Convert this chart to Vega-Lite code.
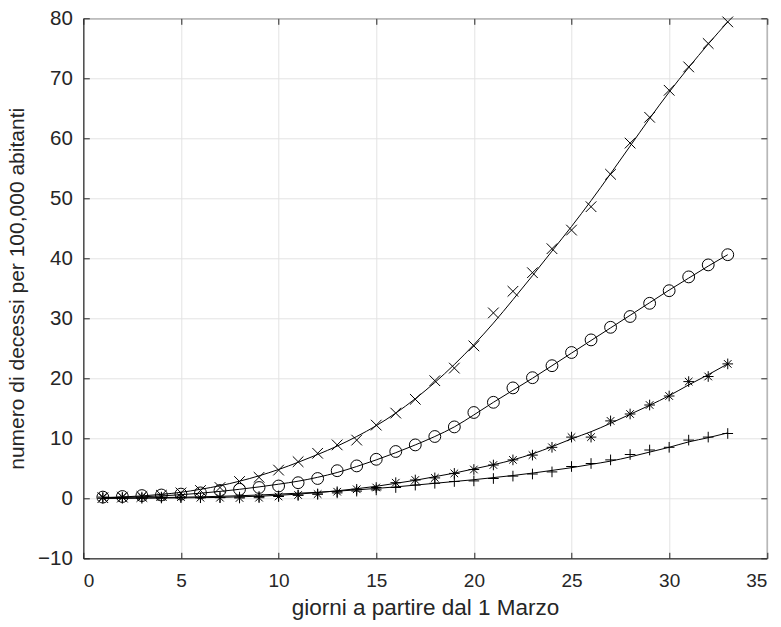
{
  "$schema": "https://vega.github.io/schema/vega-lite/v6.json",
  "width": 683.5,
  "height": 540,
  "autosize": {"type": "none"},
  "padding": {"left": 83.3, "top": 18.3, "right": 14.2, "bottom": 68.7},
  "background": "white",
  "config": {
    "view": {"stroke": "#262626", "strokeWidth": 1},
    "axis": {
      "labelFont": "Liberation Sans",
      "labelColor": "#262626",
      "titleFont": "Liberation Sans",
      "titleFontWeight": "normal",
      "titleColor": "#262626",
      "tickColor": "#262626",
      "domainColor": "#262626",
      "gridColor": "#e3e3e3",
      "gridWidth": 1,
      "tickSize": -6
    }
  },
  "data": {
    "values": [
      {"d":1,"s":"x","v":0.1,"f":0.12},{"d":2,"s":"x","v":0.2,"f":0.22},{"d":3,"s":"x","v":0.3,"f":0.4},{"d":4,"s":"x","v":0.5,"f":0.65},{"d":5,"s":"x","v":0.9,"f":1.0},{"d":6,"s":"x","v":1.3,"f":1.5},{"d":7,"s":"x","v":1.8,"f":2.1},{"d":8,"s":"x","v":2.8,"f":2.85},{"d":9,"s":"x","v":3.5,"f":3.75},{"d":10,"s":"x","v":4.7,"f":4.8},{"d":11,"s":"x","v":6.1,"f":6.0},{"d":12,"s":"x","v":7.5,"f":7.3},{"d":13,"s":"x","v":8.9,"f":8.7},{"d":14,"s":"x","v":9.7,"f":10.3},{"d":15,"s":"x","v":12.2,"f":12.1},{"d":16,"s":"x","v":14.2,"f":14.2},{"d":17,"s":"x","v":16.5,"f":16.6},{"d":18,"s":"x","v":19.6,"f":19.3},{"d":19,"s":"x","v":21.7,"f":22.3},{"d":20,"s":"x","v":25.4,"f":25.6},{"d":21,"s":"x","v":30.9,"f":29.2},{"d":22,"s":"x","v":34.5,"f":33.1},{"d":23,"s":"x","v":37.6,"f":37.1},{"d":24,"s":"x","v":41.6,"f":41.2},{"d":25,"s":"x","v":44.7,"f":45.3},{"d":26,"s":"x","v":48.6,"f":49.6},{"d":27,"s":"x","v":54.0,"f":54.1},{"d":28,"s":"x","v":59.2,"f":58.7},{"d":29,"s":"x","v":63.5,"f":63.3},{"d":30,"s":"x","v":68.0,"f":67.7},{"d":31,"s":"x","v":71.9,"f":71.8},{"d":32,"s":"x","v":75.8,"f":75.7},{"d":33,"s":"x","v":79.4,"f":79.4},
      {"d":1,"s":"o","v":0.2,"f":0.1},{"d":2,"s":"o","v":0.3,"f":0.15},{"d":3,"s":"o","v":0.45,"f":0.25},{"d":4,"s":"o","v":0.55,"f":0.4},{"d":5,"s":"o","v":0.7,"f":0.6},{"d":6,"s":"o","v":0.9,"f":0.85},{"d":7,"s":"o","v":1.3,"f":1.15},{"d":8,"s":"o","v":1.5,"f":1.5},{"d":9,"s":"o","v":1.8,"f":1.9},{"d":10,"s":"o","v":2.05,"f":2.35},{"d":11,"s":"o","v":2.6,"f":2.85},{"d":12,"s":"o","v":3.3,"f":3.5},{"d":13,"s":"o","v":4.6,"f":4.3},{"d":14,"s":"o","v":5.4,"f":5.3},{"d":15,"s":"o","v":6.5,"f":6.4},{"d":16,"s":"o","v":7.8,"f":7.6},{"d":17,"s":"o","v":8.9,"f":8.9},{"d":18,"s":"o","v":10.3,"f":10.3},{"d":19,"s":"o","v":11.9,"f":11.9},{"d":20,"s":"o","v":14.3,"f":13.9},{"d":21,"s":"o","v":16.0,"f":16.0},{"d":22,"s":"o","v":18.4,"f":18.0},{"d":23,"s":"o","v":20.1,"f":20.0},{"d":24,"s":"o","v":22.1,"f":22.1},{"d":25,"s":"o","v":24.3,"f":24.2},{"d":26,"s":"o","v":26.4,"f":26.3},{"d":27,"s":"o","v":28.5,"f":28.4},{"d":28,"s":"o","v":30.3,"f":30.5},{"d":29,"s":"o","v":32.5,"f":32.6},{"d":30,"s":"o","v":34.6,"f":34.7},{"d":31,"s":"o","v":36.9,"f":36.7},{"d":32,"s":"o","v":38.9,"f":38.7},{"d":33,"s":"o","v":40.6,"f":40.6},
      {"d":1,"s":"star","v":0.2,"f":0.0},{"d":2,"s":"star","v":0.2,"f":0.01},{"d":3,"s":"star","v":0.2,"f":0.02},{"d":4,"s":"star","v":0.2,"f":0.04},{"d":5,"s":"star","v":0.2,"f":0.07},{"d":6,"s":"star","v":0.1,"f":0.1},{"d":7,"s":"star","v":0.1,"f":0.15},{"d":8,"s":"star","v":0.05,"f":0.25},{"d":9,"s":"star","v":0.1,"f":0.35},{"d":10,"s":"star","v":0.3,"f":0.5},{"d":11,"s":"star","v":0.55,"f":0.7},{"d":12,"s":"star","v":0.7,"f":0.95},{"d":13,"s":"star","v":1.1,"f":1.25},{"d":14,"s":"star","v":1.5,"f":1.6},{"d":15,"s":"star","v":1.8,"f":2.0},{"d":16,"s":"star","v":2.6,"f":2.5},{"d":17,"s":"star","v":3.05,"f":3.0},{"d":18,"s":"star","v":3.4,"f":3.6},{"d":19,"s":"star","v":4.15,"f":4.2},{"d":20,"s":"star","v":4.8,"f":4.9},{"d":21,"s":"star","v":5.55,"f":5.6},{"d":22,"s":"star","v":6.4,"f":6.4},{"d":23,"s":"star","v":7.2,"f":7.4},{"d":24,"s":"star","v":8.5,"f":8.6},{"d":25,"s":"star","v":10.2,"f":9.9},{"d":26,"s":"star","v":10.2,"f":11.1},{"d":27,"s":"star","v":12.9,"f":12.5},{"d":28,"s":"star","v":14.05,"f":14.0},{"d":29,"s":"star","v":15.55,"f":15.5},{"d":30,"s":"star","v":17.05,"f":17.1},{"d":31,"s":"star","v":19.45,"f":18.9},{"d":32,"s":"star","v":20.3,"f":20.6},{"d":33,"s":"star","v":22.4,"f":22.4},
      {"d":1,"s":"plus","v":0.0,"f":0.0},{"d":2,"s":"plus","v":0.0,"f":0.03},{"d":3,"s":"plus","v":0.0,"f":0.07},{"d":4,"s":"plus","v":0.05,"f":0.12},{"d":5,"s":"plus","v":0.1,"f":0.18},{"d":6,"s":"plus","v":0.1,"f":0.25},{"d":7,"s":"plus","v":0.15,"f":0.33},{"d":8,"s":"plus","v":0.2,"f":0.43},{"d":9,"s":"plus","v":0.3,"f":0.55},{"d":10,"s":"plus","v":0.4,"f":0.7},{"d":11,"s":"plus","v":0.5,"f":0.85},{"d":12,"s":"plus","v":0.7,"f":1.0},{"d":13,"s":"plus","v":0.9,"f":1.2},{"d":14,"s":"plus","v":1.2,"f":1.4},{"d":15,"s":"plus","v":1.4,"f":1.65},{"d":16,"s":"plus","v":1.8,"f":1.9},{"d":17,"s":"plus","v":2.2,"f":2.2},{"d":18,"s":"plus","v":2.5,"f":2.5},{"d":19,"s":"plus","v":2.8,"f":2.8},{"d":20,"s":"plus","v":2.9,"f":3.1},{"d":21,"s":"plus","v":3.3,"f":3.45},{"d":22,"s":"plus","v":3.7,"f":3.8},{"d":23,"s":"plus","v":4.05,"f":4.2},{"d":24,"s":"plus","v":4.4,"f":4.65},{"d":25,"s":"plus","v":5.3,"f":5.1},{"d":26,"s":"plus","v":5.8,"f":5.65},{"d":27,"s":"plus","v":6.4,"f":6.2},{"d":28,"s":"plus","v":7.3,"f":6.9},{"d":29,"s":"plus","v":8.05,"f":7.7},{"d":30,"s":"plus","v":8.5,"f":8.5},{"d":31,"s":"plus","v":9.7,"f":9.4},{"d":32,"s":"plus","v":10.2,"f":10.1},{"d":33,"s":"plus","v":10.8,"f":10.9}
    ]
  },
  "layer": [
    {
      "mark": {"type": "line", "interpolate": "monotone", "color": "black", "strokeWidth": 1},
      "encoding": {
        "x": {"field": "d", "type": "quantitative", "scale": {"domain": [0, 35], "nice": false},
              "axis": {"orient": "bottom", "values": [0,5,10,15,20,25,30,35], "title": "giorni a partire dal 1 Marzo",
                       "labelFontSize": 19, "titleFontSize": 22.5, "labelPadding": 19, "titlePadding": 6}},
        "y": {"field": "f", "type": "quantitative", "scale": {"domain": [-10, 80], "nice": false, "zero": false},
              "axis": {"orient": "left", "values": [-10,0,10,20,30,40,50,60,70,80], "title": "numero di decessi per 100,000 abitanti",
                       "labelFontSize": 20.5, "titleFontSize": 21, "labelPadding": 17, "titlePadding": 10}},
        "detail": {"field": "s"}
      }
    },
    {
      "mark": {"type": "point", "opacity": 0},
      "encoding": {
        "x": {"field": "d", "type": "quantitative",
              "axis": {"orient": "top", "values": [0,5,10,15,20,25,30,35], "labels": false, "title": null, "grid": false, "domain": false}},
        "y": {"field": "v", "type": "quantitative",
              "axis": {"orient": "right", "values": [-10,0,10,20,30,40,50,60,70,80], "labels": false, "title": null, "grid": false, "domain": false}}
      }
    },
    {
      "mark": {"type": "point", "filled": false, "color": "black", "strokeWidth": 1, "opacity": 1, "size": 140},
      "encoding": {
        "x": {"field": "d", "type": "quantitative", "axis": null},
        "y": {"field": "v", "type": "quantitative", "axis": null},
        "shape": {"field": "s", "type": "nominal", "legend": null,
                  "scale": {"domain": ["x", "o", "star", "plus"],
                            "range": ["M-0.9,-0.9L0.9,0.9M-0.9,0.9L0.9,-0.9", "circle",
                                      "M-0.9,0L0.9,0M0,-0.9L0,0.9M-0.64,-0.64L0.64,0.64M-0.64,0.64L0.64,-0.64",
                                      "M-0.9,0L0.9,0M0,-0.9L0,0.9"]}}
      }
    }
  ],
  "resolve": {"axis": {"x": "independent", "y": "independent"}}
}
